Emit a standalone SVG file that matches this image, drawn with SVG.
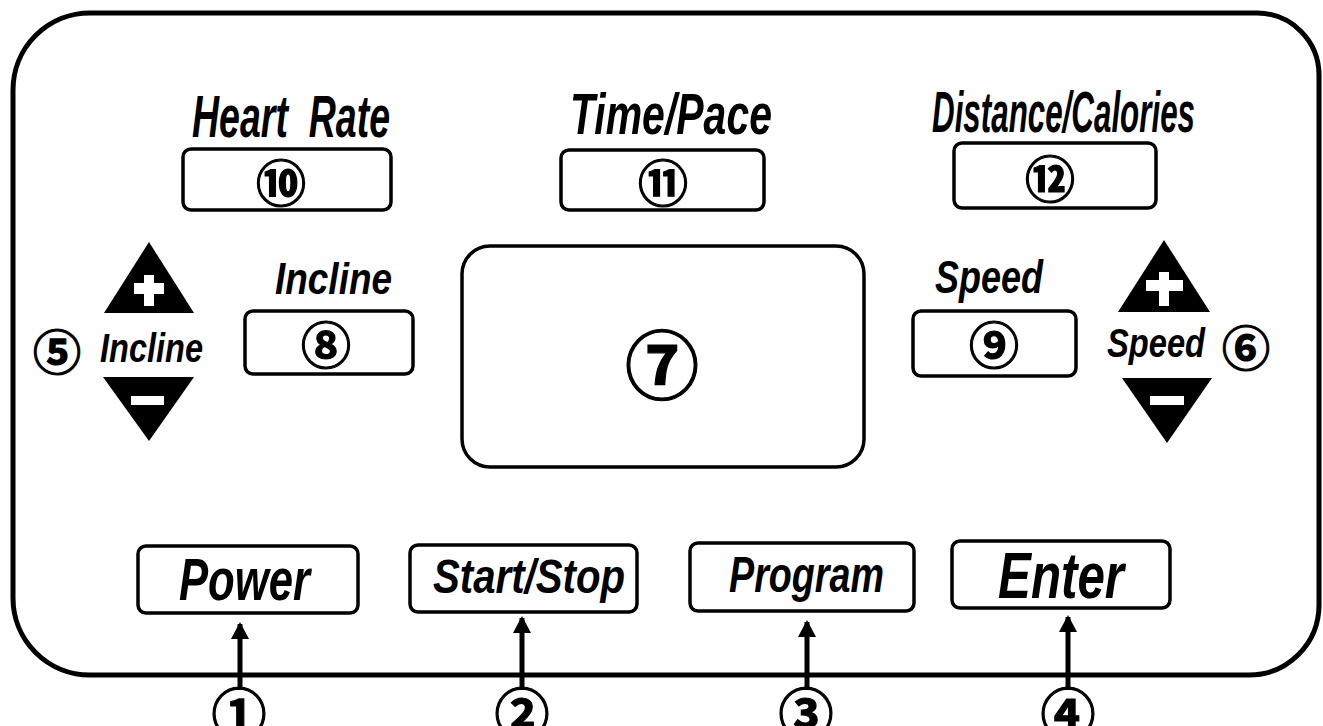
<svg xmlns="http://www.w3.org/2000/svg" width="1323" height="726" viewBox="0 0 1323 726">
  <defs>
    <style>
      .panel { fill: none; stroke: #000; stroke-width: 5; }
      .box { fill: #fff; stroke: #000; stroke-width: 3.5; }
      .lbl { font-family: "Liberation Sans", Arial, sans-serif; font-weight: bold; font-style: italic; fill: #000; }
      .num { font-family: "Noto Sans CJK JP", "Noto Sans", sans-serif; font-weight: bold; fill: #000; stroke: #000; stroke-width: 1.2; text-anchor: middle; dominant-baseline: central; }
      .tri { fill: #000; }
      .sym { fill: #fff; }
      .arrow { fill: none; stroke: #000; stroke-width: 5; marker-end: url(#head); }
    </style>
    <marker id="head" markerWidth="20" markerHeight="18" refX="15" refY="9" orient="auto" markerUnits="userSpaceOnUse" viewBox="0 0 20 18">
      <path d="M0,0 L17,9 L0,18 Z" fill="#000"/>
    </marker>
  </defs>

  <rect width="1323" height="726" fill="#fff"/>

  <!-- console outline -->
  <path class="panel" d="M90 13 H1257 A62 62 0 0 1 1319 75 V605 A70 70 0 0 1 1249 675 H90 A77 77 0 0 1 13 598 V90 A77 77 0 0 1 90 13 Z"/>

  <!-- display windows -->
  <g id="heart-rate">
    <text class="lbl" x="192" y="137" font-size="60" textLength="198" lengthAdjust="spacingAndGlyphs">Heart&#160; Rate</text>
    <rect class="box" x="183" y="149" width="208" height="61" rx="8"/>
    <text class="num" x="281" y="180" font-size="50">⑩</text>
  </g>

  <g id="time-pace">
    <text class="lbl" x="570" y="134" font-size="58" textLength="202" lengthAdjust="spacingAndGlyphs">Time/Pace</text>
    <rect class="box" x="561" y="150" width="203" height="60" rx="8"/>
    <text class="num" x="663" y="180" font-size="50">⑪</text>
  </g>

  <g id="distance-calories">
    <text class="lbl" x="932" y="132" font-size="58" textLength="263" lengthAdjust="spacingAndGlyphs">Distance/Calories</text>
    <rect class="box" x="954" y="143" width="202" height="65" rx="8"/>
    <text class="num" x="1050" y="176" font-size="50">⑫</text>
  </g>

  <g id="incline-display">
    <text class="lbl" x="275" y="294" font-size="44" textLength="117" lengthAdjust="spacingAndGlyphs">Incline</text>
    <rect class="box" x="245" y="311" width="168" height="63" rx="8"/>
    <text class="num" x="326" y="342" font-size="50">⑧</text>
  </g>

  <g id="main-display">
    <rect class="box" x="462" y="246" width="402" height="221" rx="28"/>
    <text class="num" x="662" y="360" font-size="74">⑦</text>
  </g>

  <g id="speed-display">
    <text class="lbl" x="935" y="293" font-size="47" textLength="108" lengthAdjust="spacingAndGlyphs">Speed</text>
    <rect class="box" x="913" y="311" width="163" height="65" rx="8"/>
    <text class="num" x="994" y="342" font-size="50">⑨</text>
  </g>

  <!-- incline keys -->
  <g id="incline-keys">
    <path class="tri" d="M149 242 L194 313 L104 313 Z"/>
    <rect class="sym" x="144" y="275" width="10" height="31"/>
    <rect class="sym" x="134" y="283" width="30" height="11"/>
    <path class="tri" d="M103 377 L194 377 L149 441 Z"/>
    <rect class="sym" x="131" y="396" width="33" height="9"/>
    <text class="lbl" x="100" y="362" font-size="41" textLength="103" lengthAdjust="spacingAndGlyphs">Incline</text>
    <text class="num" x="57" y="349" font-size="48">⑤</text>
  </g>

  <!-- speed keys -->
  <g id="speed-keys">
    <path class="tri" d="M1164 240 L1210 312 L1118 312 Z"/>
    <rect class="sym" x="1159" y="272" width="10" height="34"/>
    <rect class="sym" x="1146" y="280" width="37" height="11"/>
    <path class="tri" d="M1122 378 L1212 378 L1167 443 Z"/>
    <rect class="sym" x="1150" y="396" width="34" height="9"/>
    <text class="lbl" x="1107" y="357" font-size="41" textLength="98" lengthAdjust="spacingAndGlyphs">Speed</text>
    <text class="num" x="1246" y="345" font-size="48">⑥</text>
  </g>

  <!-- push buttons -->
  <g id="btn-power">
    <rect class="box" x="138" y="546" width="220" height="67" rx="8"/>
    <text class="lbl" x="179" y="600" font-size="60" textLength="131" lengthAdjust="spacingAndGlyphs">Power</text>
  </g>
  <g id="btn-start-stop">
    <rect class="box" x="410" y="545" width="227" height="67" rx="8"/>
    <text class="lbl" x="433" y="593" font-size="48" textLength="192" lengthAdjust="spacingAndGlyphs">Start/Stop</text>
  </g>
  <g id="btn-program">
    <rect class="box" x="690" y="543" width="224" height="68" rx="8"/>
    <text class="lbl" x="729" y="592" font-size="50" textLength="155" lengthAdjust="spacingAndGlyphs">Program</text>
  </g>
  <g id="btn-enter">
    <rect class="box" x="952" y="541" width="218" height="67" rx="8"/>
    <text class="lbl" x="998" y="598" font-size="64" textLength="126" lengthAdjust="spacingAndGlyphs">Enter</text>
  </g>

  <!-- callout arrows -->
  <g id="connectors">
    <path class="arrow" d="M240 690 V624"/>
    <path class="arrow" d="M522 690 V618"/>
    <path class="arrow" d="M807 690 V622"/>
    <path class="arrow" d="M1068 690 V617"/>
  </g>

  <!-- callout numbers -->
  <g id="callouts">
    <text class="num" x="239" y="710" font-size="55">①</text>
    <text class="num" x="522" y="710" font-size="55">②</text>
    <text class="num" x="806" y="710" font-size="55">③</text>
    <text class="num" x="1068" y="710" font-size="55">④</text>
  </g>
</svg>
